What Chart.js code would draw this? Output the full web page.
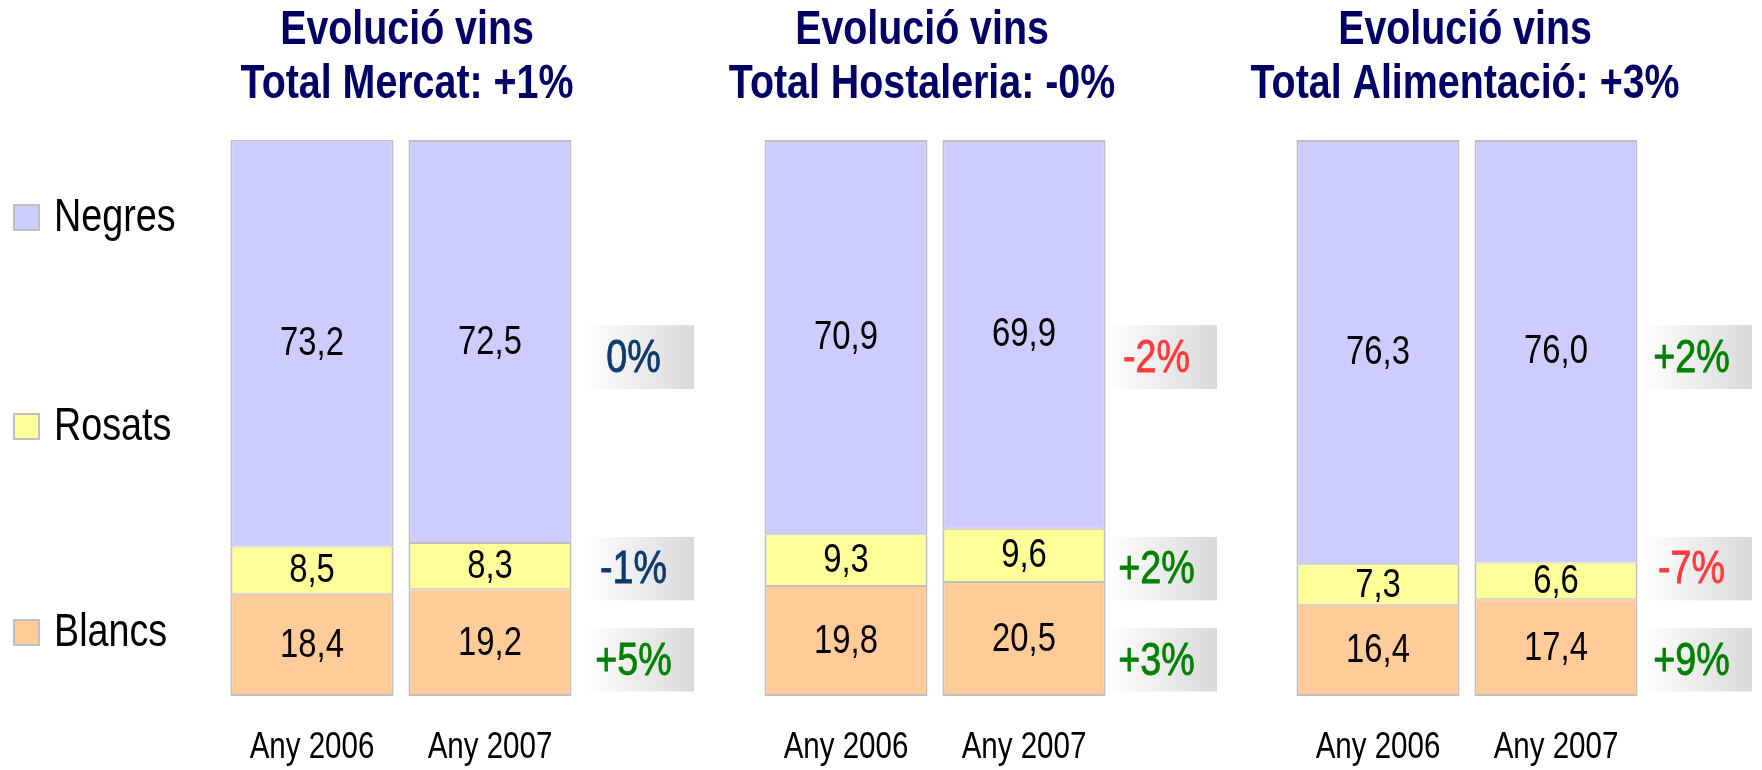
<!DOCTYPE html>
<html><head><meta charset="utf-8">
<script src="https://cdn.jsdelivr.net/npm/chart.js@4.4.1/dist/chart.umd.min.js"></script>
<style>
html,body{margin:0;padding:0;background:#fff;width:1762px;height:770px;overflow:hidden;position:relative}
canvas{position:absolute;top:0}
</style></head><body>
<canvas id="c1" width="699" height="770" style="left:0px"></canvas>
<canvas id="c2" width="536" height="770" style="left:697px"></canvas>
<canvas id="c3" width="536" height="770" style="left:1229px"></canvas>
<script>
// ---- data ----
const categories = ['Any 2006', 'Any 2007'];
const seriesNames = ['Blancs', 'Rosats', 'Negres'];
const titleMercat = ['Evolució vins', 'Total Mercat: +1%'];
const titleHostaleria = ['Evolució vins', 'Total Hostaleria: -0%'];
const titleAlimentacio = ['Evolució vins', 'Total Alimentació: +3%'];
const blancsMercat = [18.4, 19.2];
const rosatsMercat = [8.5, 8.3];
const negresMercat = [73.2, 72.5];
const blancsHostaleria = [19.8, 20.5];
const rosatsHostaleria = [9.3, 9.6];
const negresHostaleria = [70.9, 69.9];
const blancsAlimentacio = [16.4, 17.4];
const rosatsAlimentacio = [7.3, 6.6];
const negresAlimentacio = [76.3, 76.0];
// variation labels, order: Negres, Rosats, Blancs
const varMercat = ['0%', '-1%', '+5%'];
const varHostaleria = ['-2%', '+2%', '+3%'];
const varAlimentacio = ['+2%', '-7%', '+9%'];

// ---- styles ----
const FAMILY = '"Liberation Sans", Arial, sans-serif';
const CONDENSE = 0.82;
Chart.defaults.font.family = FAMILY;
const FILL = {Blancs: '#FFCC99', Rosats: '#FFFF99', Negres: '#CCCCFF'};
const BORDER = '#BFBFBF';
const BORDERS = {
  Blancs: {top: 1, bottom: 2, left: 2, right: 2},
  Rosats: {top: 1, bottom: 1, left: 2, right: 2},
  Negres: {top: 2, bottom: 1, left: 2, right: 2}
};
function trendColor(label) {
  const v = parseFloat(label);
  return v > 1 ? '#008000' : (v < -1 ? '#FF3B3B' : '#0A3A6E');
}
// draw text with a narrow (condensed) look
function narrowText(ctx, text, x, y, font, color, align, thicken) {
  ctx.save();
  ctx.font = font;
  ctx.fillStyle = color;
  ctx.textAlign = align || 'center';
  ctx.textBaseline = 'middle';
  ctx.translate(x, y);
  ctx.scale(CONDENSE, 1);
  ctx.fillText(text, 0, 0);
  if (thicken) {
    ctx.strokeStyle = color;
    ctx.lineWidth = thicken;
    ctx.lineJoin = 'round';
    ctx.strokeText(text, 0, 0);
  }
  ctx.restore();
}

const titlePlugin = {
  id: 'panelTitle',
  afterDraw(chart, args, opts) {
    const a = chart.chartArea;
    const cx = (a.left + a.right) / 2 + opts.shift;
    opts.lines.forEach((t, i) => narrowText(chart.ctx, t, cx, 31 + i * 54, 'bold 48px ' + FAMILY, '#000066'));
  }
};

const categoryLabelPlugin = {
  id: 'categoryLabels',
  afterDraw(chart) {
    const xs = chart.scales.x;
    chart.data.labels.forEach((lab, i) => {
      narrowText(chart.ctx, lab, xs.getPixelForTick(i), chart.chartArea.bottom + 52, '36px ' + FAMILY, '#000');
    });
  }
};

const valuePlugin = {
  id: 'valueLabels',
  afterDatasetsDraw(chart) {
    chart.data.datasets.forEach((ds, di) => {
      chart.getDatasetMeta(di).data.forEach((bar, i) => {
        const txt = ds.data[i].toFixed(1).replace('.', ',');
        narrowText(chart.ctx, txt, bar.x, (bar.y + bar.base) / 2 + 1, '40px ' + FAMILY, '#000');
      });
    });
  }
};

const varPlugin = {
  id: 'variations',
  afterDraw(chart, args, opts) {
    const ctx = chart.ctx, a = chart.chartArea, h = a.bottom - a.top;
    const rows = [[0.333, 0.448], [0.714, 0.828], [0.878, 0.992]];
    const x0 = a.right + opts.shift, w = 111;
    opts.labels.forEach((lab, i) => {
      const y0 = a.top + rows[i][0] * h, y1 = a.top + rows[i][1] * h;
      ctx.save();
      const g = ctx.createLinearGradient(x0, 0, x0 + w, 0);
      g.addColorStop(0, '#ffffff');
      g.addColorStop(1, '#d9d9d9');
      ctx.fillStyle = g;
      ctx.fillRect(x0, y0, w, y1 - y0);
      ctx.restore();
      narrowText(ctx, lab, x0 + w / 2 - 5, (y0 + y1) / 2 + 2, '46px ' + FAMILY, trendColor(lab), 'center', 0.8);
    });
  }
};

const legendPlugin = {
  id: 'sideLegend',
  afterDraw(chart, args, opts) {
    if (!opts.show) return;
    const ctx = chart.ctx;
    const ys = [217, 426, 632];
    const items = chart.data.datasets.slice().reverse();
    items.forEach((ds, i) => {
      const y = ys[i];
      ctx.save();
      ctx.fillStyle = ds.backgroundColor;
      ctx.fillRect(13, y - 13, 27, 27);
      ctx.strokeStyle = BORDER;
      ctx.lineWidth = 2;
      ctx.strokeRect(14, y - 12, 25, 25);
      ctx.restore();
      narrowText(ctx, ds.label, 54, y + 1, '46px ' + FAMILY, '#000', 'left');
    });
  }
};

function makePanel(id, title, blancs, rosats, negres, vars, padL, showLegend, titleShift, boxShift) {
  const values = {Blancs: blancs, Rosats: rosats, Negres: negres};
  new Chart(document.getElementById(id), {
    type: 'bar',
    data: {
      labels: categories,
      datasets: seriesNames.map(n => ({
        label: n,
        data: values[n],
        backgroundColor: FILL[n],
        borderColor: BORDER,
        borderWidth: BORDERS[n],
        borderSkipped: false,
        barPercentage: 0.916,
        categoryPercentage: 1
      }))
    },
    options: {
      responsive: false,
      animation: false,
      devicePixelRatio: 1,
      layout: {padding: {left: padL, right: 120, top: 140, bottom: 0}},
      plugins: {
        legend: {display: false},
        tooltip: {enabled: false},
        title: {display: false},
        panelTitle: {lines: title, shift: titleShift},
        variations: {labels: vars, shift: boxShift},
        sideLegend: {show: showLegend}
      },
      scales: {
        x: {
          stacked: true,
          grid: {display: false, drawTicks: false},
          border: {display: false},
          ticks: {display: false},
          afterFit: (scale) => { scale.height = 74; }
        },
        y: {stacked: true, display: false, min: 0, max: 100}
      }
    },
    plugins: [titlePlugin, valuePlugin, varPlugin, legendPlugin, categoryLabelPlugin]
  });
}

makePanel('c1', titleMercat, blancsMercat, rosatsMercat, negresMercat, varMercat, 223, true, 6, 4);
makePanel('c2', titleHostaleria, blancsHostaleria, rosatsHostaleria, negresHostaleria, varHostaleria, 60, false, -13, -7);
makePanel('c3', titleAlimentacio, blancsAlimentacio, rosatsAlimentacio, negresAlimentacio, varAlimentacio, 60, false, -2, -4);
</script>
</body></html>
